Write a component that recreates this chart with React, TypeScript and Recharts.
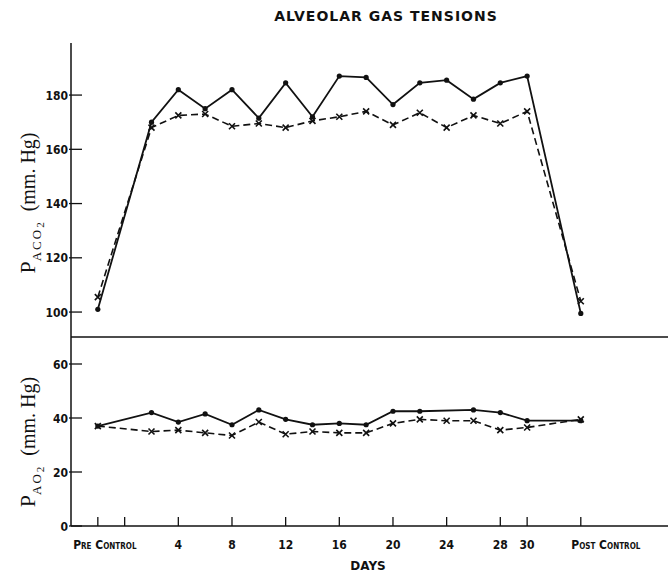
import { LineChart, Line, XAxis, YAxis, ReferenceLine } from 'recharts';

// days on study; -2 = pre control, 34 = post control
const days = [-2, 2, 4, 6, 8, 10, 12, 14, 16, 18, 20, 22, 24, 26, 28, 30, 34];
const paco2Solid = [101, 170, 182, 175, 182, 171.5, 184.5, 172, 187, 186.5, 176.5, 184.5, 185.5, 178.5, 184.5, 187, 99.5];
const paco2Dashed = [105.5, 168, 172.5, 173, 168.5, 169.5, 168, 170.5, 172, 174, 169, 173.5, 168, 172.5, 169.5, 174, 104];
const pao2Solid = [37, 42, 38.5, 41.5, 37.5, 43, 39.5, 37.5, 38, 37.5, 42.5, 42.5, null, 43, 42, 39, 39];
const pao2Dashed = [37, 35, 35.5, 34.5, 33.5, 38.5, 34, 35, 34.5, 34.5, 38, 39.5, 39, 39, 35.5, 36.5, 39.5];

const xTicks = [-2, 0, 4, 8, 12, 16, 20, 24, 28, 30, 34];
const xTickLabels = ['Pre Control', '', '4', '8', '12', '16', '20', '24', '28', '30', 'Post Control'];
const co2Ticks = [100, 120, 140, 160, 180];
const o2Ticks = [0, 20, 40, 60];

const co2Data = days.map((d, i) => ({ day: d, solid: paco2Solid[i], dashed: paco2Dashed[i] }));
const o2Data = days.map((d, i) => ({ day: d, solid: pao2Solid[i], dashed: pao2Dashed[i] }));

const INK = '#111';
const tickFont = "'DejaVu Sans Condensed', 'Liberation Sans Narrow', 'DejaVu Sans', sans-serif";
const serif = "'Liberation Serif', 'DejaVu Serif', serif";

const YTick = (props: any) => {
  const { x, y, payload } = props;
  return (
    <g>
      <line x1={x - 2} x2={x + 11} y1={y} y2={y} stroke={INK} strokeWidth={1.3} />
      <text x={x - 3} y={y} dy={4.5} textAnchor="end" fill={INK} fontSize={12} fontWeight="bold"
        fontFamily={tickFont} style={{ fontStretch: 'condensed' }}>
        {payload.value}
      </text>
    </g>
  );
};

const XTick = (props: any) => {
  const { x, y, payload } = props;
  const idx = xTicks.indexOf(payload.value);
  const label = xTickLabels[idx] ?? '';
  const dx = payload.value === -2 ? 7 : payload.value === 34 ? 25 : 0;
  return (
    <g>
      <line x1={x} x2={x} y1={y} y2={y - 9} stroke={INK} strokeWidth={1.3} />
      <text x={x + dx} y={y + 23} textAnchor="middle" fill={INK} fontSize={12} fontWeight="bold"
        fontFamily={tickFont} style={{ fontStretch: 'condensed', fontVariant: 'small-caps' }}>
        {label}
      </text>
    </g>
  );
};

const RoundDot = (props: any) => {
  const { cx, cy, index } = props;
  if (cx == null || cy == null) return <g key={`rd-${index}`} />;
  return <circle key={`rd-${index}`} cx={cx} cy={cy} r={2.6} fill={INK} stroke="none" />;
};

const CrossDot = (props: any) => {
  const { cx, cy, index } = props;
  if (cx == null || cy == null) return <g key={`cd-${index}`} />;
  const s = 3;
  return (
    <path key={`cd-${index}`} d={`M${cx - s},${cy - s}L${cx + s},${cy + s}M${cx - s},${cy + s}L${cx + s},${cy - s}`}
      stroke={INK} strokeWidth={1.6} fill="none" />
  );
};

const AxisTitle = ({ top, sub }: { top: number; sub: string }) => (
  <div style={{
    position: 'absolute', left: 28, top, transform: 'translate(-50%, -50%) rotate(-90deg)',
    whiteSpace: 'nowrap', fontFamily: serif, color: INK, lineHeight: 1,
  }}>
    <span style={{ fontSize: 22 }}>P</span>
    <span style={{ fontSize: 13, letterSpacing: 2, position: 'relative', top: 6 }}>{sub}</span>
    <span style={{ fontSize: 11, position: 'relative', top: 9 }}>2</span>
    <span style={{ fontSize: 20, marginLeft: 11 }}>(mm. Hg)</span>
  </div>
);

export default function App() {
  return (
    <div style={{ position: 'absolute', left: 0, top: 0, width: 672, height: 573, background: '#fff', overflow: 'hidden' }}>
      <div style={{
        position: 'absolute', left: 386, top: 8, transform: 'translateX(-50%)', whiteSpace: 'nowrap',
        fontFamily: "'DejaVu Sans', sans-serif", fontWeight: 'bold', fontSize: 14, letterSpacing: 1, color: INK,
      }}>
        ALVEOLAR GAS TENSIONS
      </div>

      <div style={{ position: 'absolute', left: 0, top: 0 }}>
        <LineChart width={672} height={573} data={co2Data} margin={{ top: 43, right: 4, bottom: 236, left: 70 }}>
          <XAxis dataKey="day" type="number" domain={[-4, 40.5]} allowDataOverflow hide />
          <YAxis type="number" domain={[90.8, 199.2]} allowDataOverflow ticks={co2Ticks} width={1}
            tickSize={0} tickMargin={0} tick={<YTick />} axisLine={{ stroke: INK, strokeWidth: 1.5 }} tickLine={false} />
          <Line dataKey="solid" stroke={INK} strokeWidth={1.8} dot={<RoundDot />} isAnimationActive={false} />
          <Line dataKey="dashed" stroke={INK} strokeWidth={1.6} strokeDasharray="7 4" dot={<CrossDot />} isAnimationActive={false} />
        </LineChart>
      </div>

      <div style={{ position: 'absolute', left: 0, top: 0 }}>
        <LineChart width={672} height={573} data={o2Data} margin={{ top: 337, right: 4, bottom: 46, left: 70 }}>
          <XAxis dataKey="day" type="number" domain={[-4, 40.5]} allowDataOverflow ticks={xTicks} height={1}
            tickSize={0} tickMargin={0} tick={<XTick />} axisLine={{ stroke: INK, strokeWidth: 1.5 }} tickLine={false} interval={0} />
          <YAxis type="number" domain={[0, 70]} allowDataOverflow ticks={o2Ticks} width={1}
            tickSize={0} tickMargin={0} tick={<YTick />} axisLine={{ stroke: INK, strokeWidth: 1.5 }} tickLine={false} />
          <ReferenceLine y={70} stroke={INK} strokeWidth={1.5} />
          <Line dataKey="solid" stroke={INK} strokeWidth={1.8} dot={<RoundDot />} connectNulls isAnimationActive={false} />
          <Line dataKey="dashed" stroke={INK} strokeWidth={1.6} strokeDasharray="7 4" dot={<CrossDot />} isAnimationActive={false} />
        </LineChart>
      </div>

      <AxisTitle top={203} sub="ACO" />
      <AxisTitle top={442} sub="AO" />

      <div style={{
        position: 'absolute', left: 368, top: 559, transform: 'translateX(-50%)',
        fontFamily: "'DejaVu Sans', sans-serif", fontWeight: 'bold', fontSize: 12, color: INK,
      }}>
        DAYS
      </div>
    </div>
  );
}
